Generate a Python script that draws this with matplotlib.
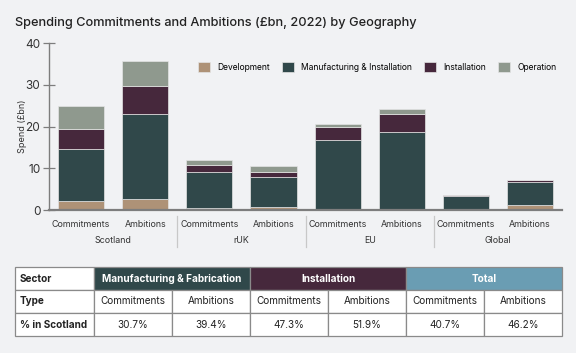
import matplotlib
matplotlib.use("Agg")
import matplotlib.pyplot as plt
import numpy as np

plt.rcParams['font.family'] = ['Inter', 'DejaVu Sans']

# data (£bn)
geographies = ['Scotland', 'rUK', 'EU', 'Global']
types = ['Commitments', 'Ambitions']
development = [2.2, 2.7, 0.5, 0.7, 0.2, 0.2, 0.1, 1.1]
manufacturing = [12.5, 20.3, 8.6, 7.1, 16.6, 18.5, 3.3, 5.6]
installation = [4.7, 6.8, 1.8, 1.4, 3.2, 4.4, 0.2, 0.6]
operation = [5.6, 5.8, 1.2, 1.3, 0.7, 1.0, 0.0, 0.0]

series = [('Development', development, '#ae9277'),
          ('Manufacturing & Installation', manufacturing, '#30484a'),
          ('Installation', installation, '#46283c'),
          ('Operation', operation, '#8f998e')]

# table
sectors = ['Manufacturing & Fabrication', 'Installation', 'Total']
sector_colors = ['#30484a', '#46283c', '#6a9db3']
pct_scotland = ['30.7%', '39.4%', '47.3%', '51.9%', '40.7%', '46.2%']

bg = '#f1f2f4'
axcol = '#7d7d7d'

fig = plt.figure(figsize=(5.76, 3.53), dpi=100, facecolor=bg)
ax = fig.add_axes([0.085, 0.405, 0.891, 0.473], facecolor=bg)

x = np.arange(len(development))
bottom = np.zeros(len(x))
for name, vals, col in series:
    ax.bar(x, vals, 0.72, bottom=bottom, color=col, edgecolor='#e4e4e4',
           linewidth=0.5, label=name)
    bottom += np.array(vals)

ax.set_xlim(-0.5, len(x) - 0.5)
ax.set_ylim(0, 40)
ax.set_yticks([0, 10, 20, 30, 40])
ax.tick_params(axis='y', direction='inout', length=8.5, width=0.9, color=axcol,
               labelsize=8.5, labelcolor='#333333', pad=2)
ax.set_xticks([])
for s in ['top', 'right']:
    ax.spines[s].set_visible(False)
ax.spines['left'].set_color(axcol)
ax.spines['bottom'].set_color(axcol)
ax.spines['left'].set_linewidth(1.0)
ax.spines['bottom'].set_linewidth(1.6)
ax.set_ylabel('Spend (£bn)', fontsize=6.5, color='#333333', labelpad=-1)

trans = ax.get_xaxis_transform()
for i in x:
    ax.text(i, -0.085, types[i % 2], transform=trans, ha='center', va='center',
            fontsize=6.4, color='#333333')
for g, name in enumerate(geographies):
    ax.text(2 * g + 0.5, -0.18, name, transform=trans, ha='center', va='center',
            fontsize=6.4, color='#333333')
    if g > 0:
        ax.plot([2 * g - 0.5] * 2, [-0.035, -0.22], transform=trans, color='#c8c8c8',
                lw=0.9, clip_on=False)

ax.legend(loc='center right', bbox_to_anchor=(0.995, 0.857), ncol=4, frameon=False,
          fontsize=6.1, handlelength=1.4, handleheight=1.4, columnspacing=1.5,
          handletextpad=0.8, borderaxespad=0)

fig.text(0.026, 0.935, 'Spending Commitments and Ambitions (£bn, 2022) by Geography',
         fontsize=9.2, fontweight='medium', color='#222222', va='center')

# table: header row and body
tab_left, tab_w = 15 / 576, 547 / 576
first_w = 79 / 547
other_w = (1 - first_w) / 6
row_h = 23 / 353
tab_top = 1 - 267 / 353

tax = fig.add_axes([0, 0, 1, 1], facecolor='none')
tax.set_axis_off()

head = tax.table(cellText=[['Sector'] + sectors],
                 colWidths=[first_w] + [2 * other_w] * 3,
                 bbox=[tab_left, tab_top - row_h, tab_w, row_h],
                 cellLoc='center')
body = tax.table(cellText=[['Type'] + types * 3, ['% in Scotland'] + pct_scotland],
                 colWidths=[first_w] + [other_w] * 6,
                 bbox=[tab_left, tab_top - 3 * row_h, tab_w, 2 * row_h],
                 cellLoc='center')
for t in (head, body):
    t.auto_set_font_size(False)
    t.set_fontsize(7.2)
    for (r, c), cell in t.get_celld().items():
        cell.set_edgecolor('#8a8a8a')
        cell.set_linewidth(0.9)
        cell.set_facecolor('white')
        cell.get_text().set_color('#222222')
        if c == 0:
            cell.get_text().set_ha('left')
            cell._loc = 'left'
            cell.PAD = 0.06
            cell.get_text().set_fontweight('bold')
for j, col in enumerate(sector_colors):
    cell = head[0, j + 1]
    cell.set_facecolor(col)
    cell.get_text().set_color('white')
    cell.get_text().set_fontweight('bold')

fig.savefig('out.png', dpi=100, facecolor=bg)
